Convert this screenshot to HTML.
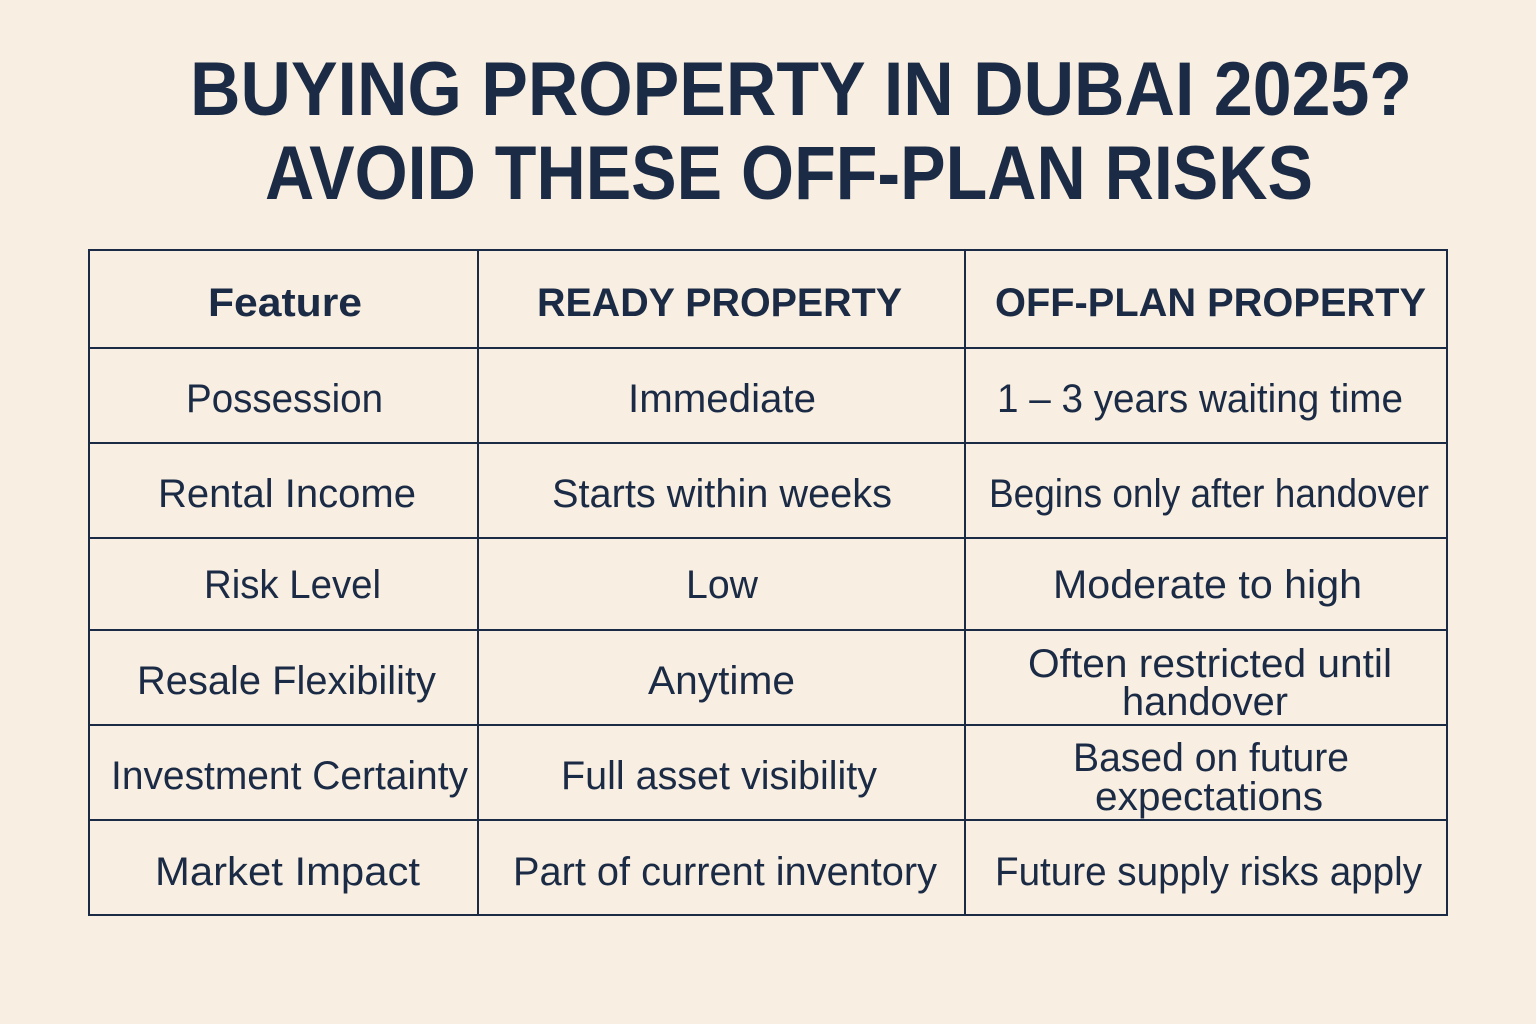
<!DOCTYPE html>
<html><head><meta charset="utf-8"><style>
html,body{margin:0;padding:0;background:#f8efe2;}
svg{display:block;}
text{font-family:"Liberation Sans",sans-serif;fill:#1c2b45;}
.t{font-weight:bold;font-size:76px;}
.h{font-weight:bold;font-size:40px;}
.c{font-size:40px;}
</style></head><body>
<svg width="1536" height="1024" viewBox="0 0 1536 1024" xmlns="http://www.w3.org/2000/svg">
<rect width="1536" height="1024" fill="#f8efe2"/>
<text class="t" x="190" y="115" textLength="1222" lengthAdjust="spacingAndGlyphs">BUYING PROPERTY IN DUBAI 2025?</text>
<text class="t" x="265" y="199" textLength="1048" lengthAdjust="spacingAndGlyphs">AVOID THESE OFF-PLAN RISKS</text>
<g stroke="#1c2b45" stroke-width="2" fill="none">
<rect x="89" y="250" width="1358" height="665"/>
<line x1="478" y1="250" x2="478" y2="915"/>
<line x1="965" y1="250" x2="965" y2="915"/>
<line x1="89" y1="348" x2="1447" y2="348"/>
<line x1="89" y1="443" x2="1447" y2="443"/>
<line x1="89" y1="538" x2="1447" y2="538"/>
<line x1="89" y1="630" x2="1447" y2="630"/>
<line x1="89" y1="725" x2="1447" y2="725"/>
<line x1="89" y1="820" x2="1447" y2="820"/>
</g>
<text class="h" x="208" y="316" textLength="154" lengthAdjust="spacingAndGlyphs">Feature</text>
<text class="h" x="537" y="316" textLength="365" lengthAdjust="spacingAndGlyphs">READY PROPERTY</text>
<text class="h" x="995" y="316" textLength="431" lengthAdjust="spacingAndGlyphs">OFF-PLAN PROPERTY</text>

<text class="c" x="186" y="412" textLength="197" lengthAdjust="spacingAndGlyphs">Possession</text>
<text class="c" x="628" y="412" textLength="188" lengthAdjust="spacingAndGlyphs">Immediate</text>
<text class="c" x="997" y="412" textLength="406" lengthAdjust="spacingAndGlyphs">1 – 3 years waiting time</text>

<text class="c" x="158" y="507" textLength="258" lengthAdjust="spacingAndGlyphs">Rental Income</text>
<text class="c" x="552" y="507" textLength="340" lengthAdjust="spacingAndGlyphs">Starts within weeks</text>
<text class="c" x="989" y="507" textLength="440" lengthAdjust="spacingAndGlyphs">Begins only after handover</text>

<text class="c" x="204" y="598" textLength="177" lengthAdjust="spacingAndGlyphs">Risk Level</text>
<text class="c" x="686" y="598" textLength="72" lengthAdjust="spacingAndGlyphs">Low</text>
<text class="c" x="1053" y="598" textLength="309" lengthAdjust="spacingAndGlyphs">Moderate to high</text>

<text class="c" x="137" y="694" textLength="299" lengthAdjust="spacingAndGlyphs">Resale Flexibility</text>
<text class="c" x="648" y="694" textLength="147" lengthAdjust="spacingAndGlyphs">Anytime</text>
<text class="c" x="1028" y="677" textLength="364" lengthAdjust="spacingAndGlyphs">Often restricted until</text>
<text class="c" x="1122" y="715" textLength="166" lengthAdjust="spacingAndGlyphs">handover</text>

<text class="c" x="111" y="789" textLength="357" lengthAdjust="spacingAndGlyphs">Investment Certainty</text>
<text class="c" x="561" y="789" textLength="316" lengthAdjust="spacingAndGlyphs">Full asset visibility</text>
<text class="c" x="1073" y="771" textLength="276" lengthAdjust="spacingAndGlyphs">Based on future</text>
<text class="c" x="1095" y="810" textLength="228" lengthAdjust="spacingAndGlyphs">expectations</text>

<text class="c" x="155" y="885" textLength="265" lengthAdjust="spacingAndGlyphs">Market Impact</text>
<text class="c" x="513" y="885" textLength="424" lengthAdjust="spacingAndGlyphs">Part of current inventory</text>
<text class="c" x="995" y="885" textLength="427" lengthAdjust="spacingAndGlyphs">Future supply risks apply</text>
</svg>
</body></html>
